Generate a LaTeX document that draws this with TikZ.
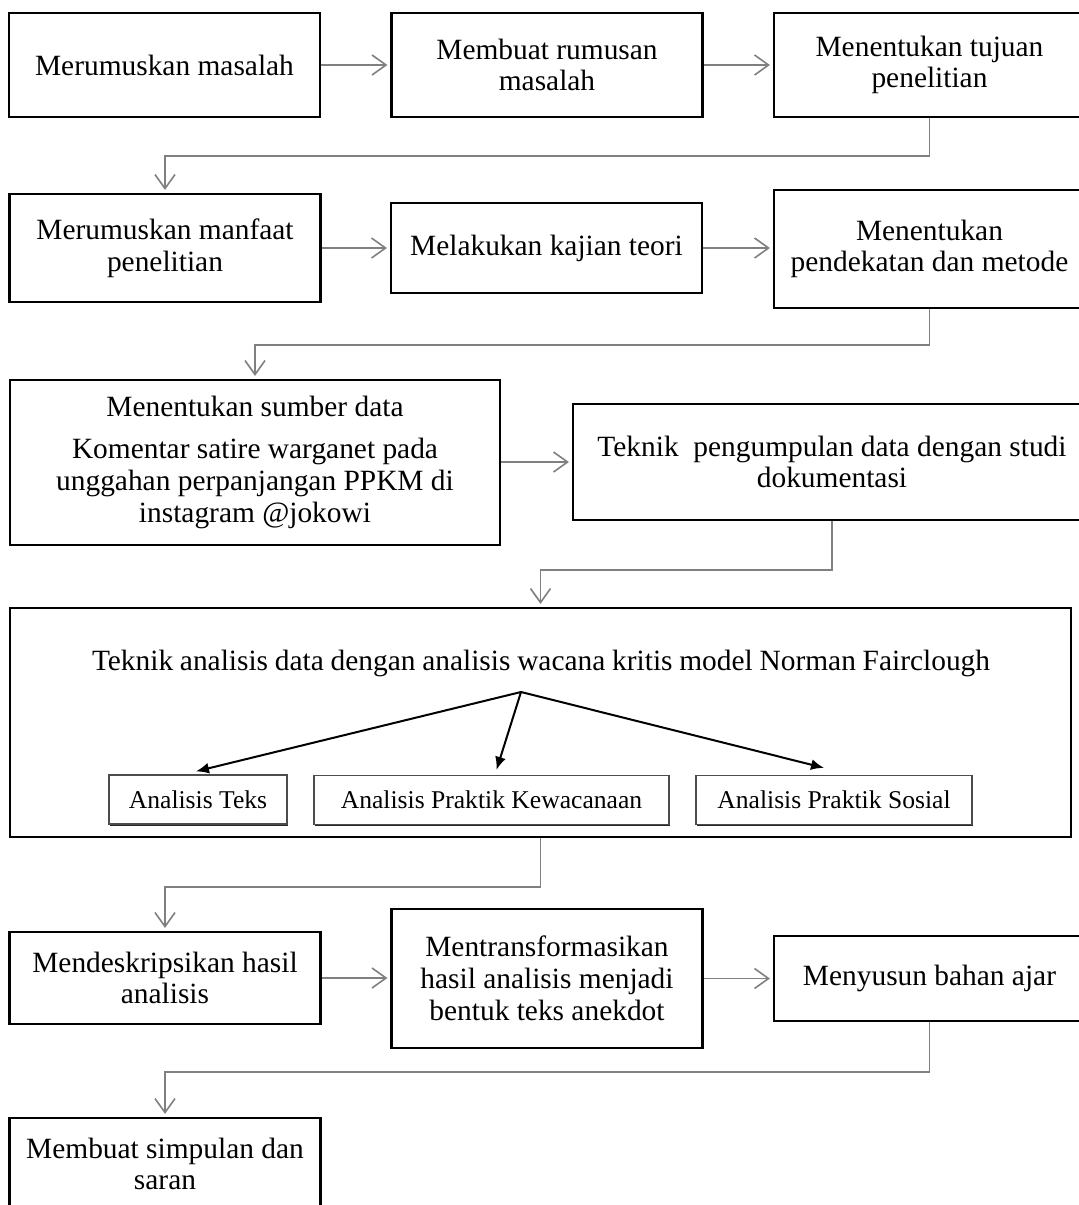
\documentclass[tikz,border=0pt]{standalone}
\usepackage{fontspec}
\setmainfont{Liberation Serif}
\usetikzlibrary{arrows.meta,shadows}
\begin{document}
\begin{tikzpicture}[x=1pt,y=-1pt,
  box/.style={draw=black, line width=2.2pt, fill=white, minimum width=311pt, align=center, inner sep=2pt, font=\fontsize{29.4}{31.8}\selectfont},
  txt/.style={align=center, inner sep=0pt, font=\fontsize{29.4}{31.8}\selectfont},
  sub/.style={draw=black!70, line width=1.3pt, fill=white, minimum height=49pt, inner sep=2pt, font=\fontsize{25.6}{30}\selectfont, drop shadow={shadow xshift=1.3pt, shadow yshift=-1.8pt, opacity=1, fill=black!85}},
  conn/.style={draw=black!50, line width=1.6pt, shorten >=3pt, -{Straight Barb[length=14pt,width=20pt,line width=1.6pt]}},
  tri/.style={draw=black, line width=2pt, -{Latex[length=13pt,width=11pt]}}
]
\useasboundingbox (0,0) rectangle (1079,1205);
\fill[white] (0,0) rectangle (1079,1205);
\clip (0,0) rectangle (1079,1205);

% row 1
\node[box, minimum height=104pt] (A) at (164.5,65) {Merumuskan masalah};
\node[box, minimum height=104pt] (B) at (547,65) {Membuat rumusan\\masalah};
\node[box, minimum height=104pt] (C) at (929.5,65) {Menentukan tujuan\\penelitian};
% row 2
\node[box, minimum height=108pt] (D) at (165,248) {Merumuskan manfaat\\penelitian};
\node[box, minimum height=90pt] (E) at (546.5,248) {Melakukan kajian teori};
\node[box, minimum height=118pt] (F) at (929.5,249) {Menentukan\\pendekatan dan metode};
% row 3
\node[box, minimum width=490pt, minimum height=165pt] (G) at (255,462.5) {Menentukan sumber data\\[10pt]Komentar satire warganet pada\\unggahan perpanjangan PPKM di\\instagram @jokowi};
\node[box, minimum width=518pt, minimum height=116pt] (H) at (832,462) {Teknik~ pengumpulan data dengan studi\\dokumentasi};
% analysis block
\node[box, minimum width=1061pt, minimum height=229pt] (I) at (540.5,722.5) {};
\node[txt] (T) at (541,663) {\makebox[898pt][s]{Teknik analisis data dengan analisis wacana kritis model Norman Fairclough}};
\coordinate (src) at (521,692);
\node[sub, minimum width=178pt] (S1) at (198,799.5) {Analisis Teks};
\node[sub, minimum width=355pt] (S2) at (491.5,800) {Analisis Praktik Kewacanaan};
\node[sub, minimum width=276pt] (S3) at (834,800) {Analisis Praktik Sosial};
% row 4
\node[box, minimum height=92pt] (J) at (165,978) {Mendeskripsikan hasil\\analisis};
\node[box, minimum height=139pt] (K) at (547,978.5) {Mentransformasikan\\hasil analisis menjadi\\bentuk teks anekdot};
\node[box, minimum height=85pt] (L) at (929.5,978.5) {Menyusun bahan ajar};
% row 5
\node[box, minimum height=92pt] (M) at (165,1164) {Membuat simpulan dan\\saran};

% connectors
\draw[conn] (A.east) -- (A.east -| B.west);
\draw[conn] (B.east) -- (B.east -| C.west);
\draw[conn] (C.south) -- ++(0,38) -| (D.north);
\draw[conn] (D.east) -- (D.east -| E.west);
\draw[conn] (E.east) -- (E.east -| F.west);
\draw[conn] (F.south) -- ++(0,36) -| (G.north);
\draw[conn] (G.east |- H.west) -- (H.west);
\draw[conn] (H.south) -- ++(0,49) -| (I.north);
\draw[conn] (I.south) -- ++(0,49) -| (J.north);
\draw[conn] (J.east) -- (J.east -| K.west);
\draw[conn] (K.east) -- (K.east -| L.west);
\draw[conn] (L.south) -- ++(0,50) -| (M.north);

\draw[tri] (src) -- ([xshift=-2pt,yshift=3pt]S1.north);
\draw[tri] (src) -- ([xshift=5pt,yshift=5pt]S2.north);
\draw[tri] (src) -- ([xshift=-10pt,yshift=7pt]S3.north);
\end{tikzpicture}
\end{document}
